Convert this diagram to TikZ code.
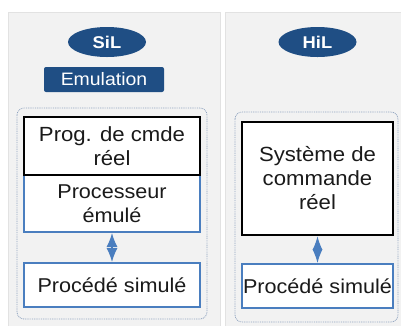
\documentclass[tikz,border=0pt]{standalone}
\usepackage{fontspec}
\setmainfont{Liberation Sans}[FakeStretch=1.08]
\usetikzlibrary{shapes.geometric,arrows.meta}
\definecolor{darkblue}{HTML}{1F4E84}
\definecolor{boxblue}{HTML}{4A7EBF}
\definecolor{dotblue}{HTML}{8FA3BF}
\definecolor{panelgrey}{HTML}{F2F2F2}
\definecolor{paneledge}{HTML}{E2E2E2}
\definecolor{textgrey}{HTML}{1A1A1A}
\tikzset{
  panel/.style={fill=panelgrey, draw=paneledge, line width=0.8pt},
  titleell/.style={ellipse, fill=darkblue, minimum width=78pt, minimum height=30pt, inner sep=0pt,
    text=white, font=\bfseries\fontsize{17}{20}\selectfont},
  tagbox/.style={rectangle, rounded corners=2pt, fill=darkblue, minimum width=120pt, minimum height=25pt,
    inner sep=0pt, text=white, font=\fontsize{18}{21}\selectfont},
  group/.style={draw=dotblue, line width=0.8pt, dash pattern=on 0.9pt off 0.9pt, rounded corners=7pt},
  realbox/.style={rectangle, draw=black, line width=2.5pt, fill=white, inner sep=0pt, align=center,
    text=textgrey, font=\fontsize{20.5}{24}\selectfont},
  simbox/.style={rectangle, draw=boxblue, line width=2pt, fill=white, inner sep=0pt, align=center,
    text=textgrey, font=\fontsize{20}{24}\selectfont},
  link/.style={draw=boxblue, line width=1.2pt}
}
\begin{document}
\begin{tikzpicture}[x=1pt, y=-1pt]
\useasboundingbox (0,0) rectangle (401,325);
\fill[white] (0,0) rectangle (401,325);
% panels
\draw[panel] (8,12) rectangle (220,326);
\draw[panel] (225,12) rectangle (402,326);
% titles
\node[titleell] (sil) at (107,42) {SiL};
\node[tagbox] (emu) at (104,79.5) {Emulation};
\node[titleell] (hil) at (317.5,42) {HiL};
% groups
\draw[group] (17,108) rectangle (207,319);
\draw[group] (235,112) rectangle (398,322);
% left column
\node[simbox, minimum width=176pt, minimum height=57pt] (proc) at (112,203.5) {Processeur\\émulé};
\node[realbox, minimum width=176pt, minimum height=58pt] (prog) at (112,146) {Prog. de cmde\\réel};
\node[simbox, minimum width=176pt, minimum height=44pt] (simL) at (112,285) {Procédé simulé};
% right column
\node[realbox, minimum width=151pt, minimum height=113pt] (sys) at (317.5,178.5) {Système de\\commande\\réel};
\node[simbox, minimum width=151pt, minimum height=44pt] (simR) at (317.5,286) {Procédé simulé};
% connectors
\draw[link, {Latex[length=14pt,width=11pt]}-{Latex[length=14pt,width=11pt]}] (proc.south) -- (simL.north);
\draw[link, {Latex[length=13.5pt,width=10pt]}-{Latex[length=13.5pt,width=10pt]}] (sys.south) -- (simR.north);
\end{tikzpicture}
\end{document}
